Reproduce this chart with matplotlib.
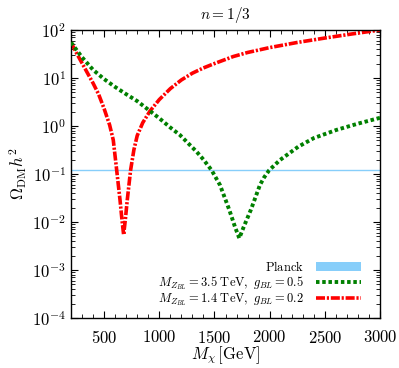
import math
import matplotlib
matplotlib.use("Agg")
import matplotlib.pyplot as plt
from matplotlib.ticker import FixedLocator, MultipleLocator, FuncFormatter, NullFormatter
from matplotlib.patches import Patch
from matplotlib.lines import Line2D

plt.rcParams['mathtext.fontset'] = 'cm'
plt.rcParams['font.family'] = 'serif'
plt.rcParams['font.serif'] = ['cmr10', 'DejaVu Serif']
plt.rcParams['axes.formatter.use_mathtext'] = True

# data
mx_red = [200, 250, 300, 350, 400, 450, 500, 550, 583, 614, 644, 662, 677, 692, 710,
          740, 770, 800, 850, 916, 1000, 1100, 1200, 1300, 1400, 1500, 1670, 1800,
          2000, 2250, 2500, 2750, 3000]
omega_red = [55, 33, 20.4, 12.6, 7.8, 4.6, 2.3, 1.05, 0.51, 0.12, 0.029, 0.011, 0.0054,
             0.011, 0.029, 0.12, 0.32, 0.63, 1.17, 2.05, 3.55, 6.0, 9.1, 12.6, 16.2, 20,
             28, 34, 43, 55, 68, 83, 100]

mx_green = [200, 300, 400, 500, 600, 700, 800, 916, 1000, 1100, 1187, 1339, 1400, 1474,
            1550, 1634, 1686, 1725, 1765, 1830, 1870, 1912, 1950, 1996, 2093, 2259, 2400,
            2606, 2800, 3000]
omega_green = [55, 27, 14.8, 9.5, 6.5, 4.6, 3.3, 2.05, 1.45, 0.93, 0.65, 0.29, 0.20, 0.12,
               0.059, 0.018, 0.0079, 0.0046, 0.0079, 0.018, 0.032, 0.059, 0.085, 0.12,
               0.195, 0.37, 0.56, 0.83, 1.12, 1.48]

planck = 0.12

x_ticks = [500, 1000, 1500, 2000, 2500, 3000]
y_exponents = [-4, -3, -2, -1, 0, 1, 2]

label_planck = r'$\mathrm{Planck}$'
label_green = r'$M_{Z_{BL}}=3.5\ \mathrm{TeV},\ g_{BL}=0.5$'
label_red = r'$M_{Z_{BL}}=1.4\ \mathrm{TeV},\ g_{BL}=0.2$'
title = r'$n=1/3$'
xlabel = r'$M_{\chi}\,[\mathrm{GeV}]$'
ylabel = r'$\Omega_{\rm DM}h^2$'

green_ls = (0, (0.9, 0.7))
red_ls = (0, (2.5, 0.5, 0.6, 0.5))

fig = plt.figure(figsize=(3.99, 3.68), dpi=100)
ax = fig.add_axes([71/399, 50/368, 309/399, 288/368])

ax.axhline(planck, color='#87cefa', lw=1.0, zorder=1)
ax.plot(mx_green, omega_green, color='#008000', lw=2.8, ls=green_ls, zorder=3)
ax.plot(mx_red, omega_red, color='#ff0000', lw=2.6, ls=red_ls, zorder=2)

ax.set_yscale('log')
ax.set_xlim(200, 3000)
ax.set_ylim(1e-4, 1e2)

ax.xaxis.set_major_locator(FixedLocator(x_ticks))
ax.xaxis.set_minor_locator(MultipleLocator(100))
ax.xaxis.set_major_formatter(FuncFormatter(lambda v, p: r'$%d$' % v))

y_major = [10.0 ** e for e in y_exponents]
y_minor = [m * 10.0 ** e for e in y_exponents[:-1] for m in range(2, 10)]
ax.yaxis.set_major_locator(FixedLocator(y_major))
ax.yaxis.set_minor_locator(FixedLocator(y_minor))
ax.yaxis.set_major_formatter(FuncFormatter(
    lambda v, p: r'$10^{%d}$' % round(math.log10(v))))
ax.yaxis.set_minor_formatter(NullFormatter())

ax.tick_params(which='both', direction='in', top=True, right=True, labelsize=12)
ax.tick_params(axis='x', which='major', pad=8)
ax.tick_params(which='major', length=5, width=0.8)
ax.tick_params(which='minor', length=3, width=0.6)
for s in ax.spines.values():
    s.set_linewidth(1.0)

ax.set_title(title, fontsize=11, pad=8)
ax.set_xlabel(xlabel, fontsize=12, labelpad=-1)
ax.set_ylabel(ylabel, fontsize=12, labelpad=2)

handles = [Patch(facecolor='#87cefa', edgecolor='none'),
           Line2D([], [], color='#008000', lw=2.8, ls=green_ls),
           Line2D([], [], color='#ff0000', lw=2.6, ls=red_ls)]
leg = ax.legend(handles, [label_planck, label_green, label_red], loc='lower right',
                markerfirst=False, frameon=False, fontsize=9, handlelength=3.6,
                handleheight=0.7, handletextpad=0.9, labelspacing=0.0,
                bbox_to_anchor=(0.945, 0.025), borderaxespad=0.0, borderpad=0.2)

fig.savefig('out.png', dpi=100)
